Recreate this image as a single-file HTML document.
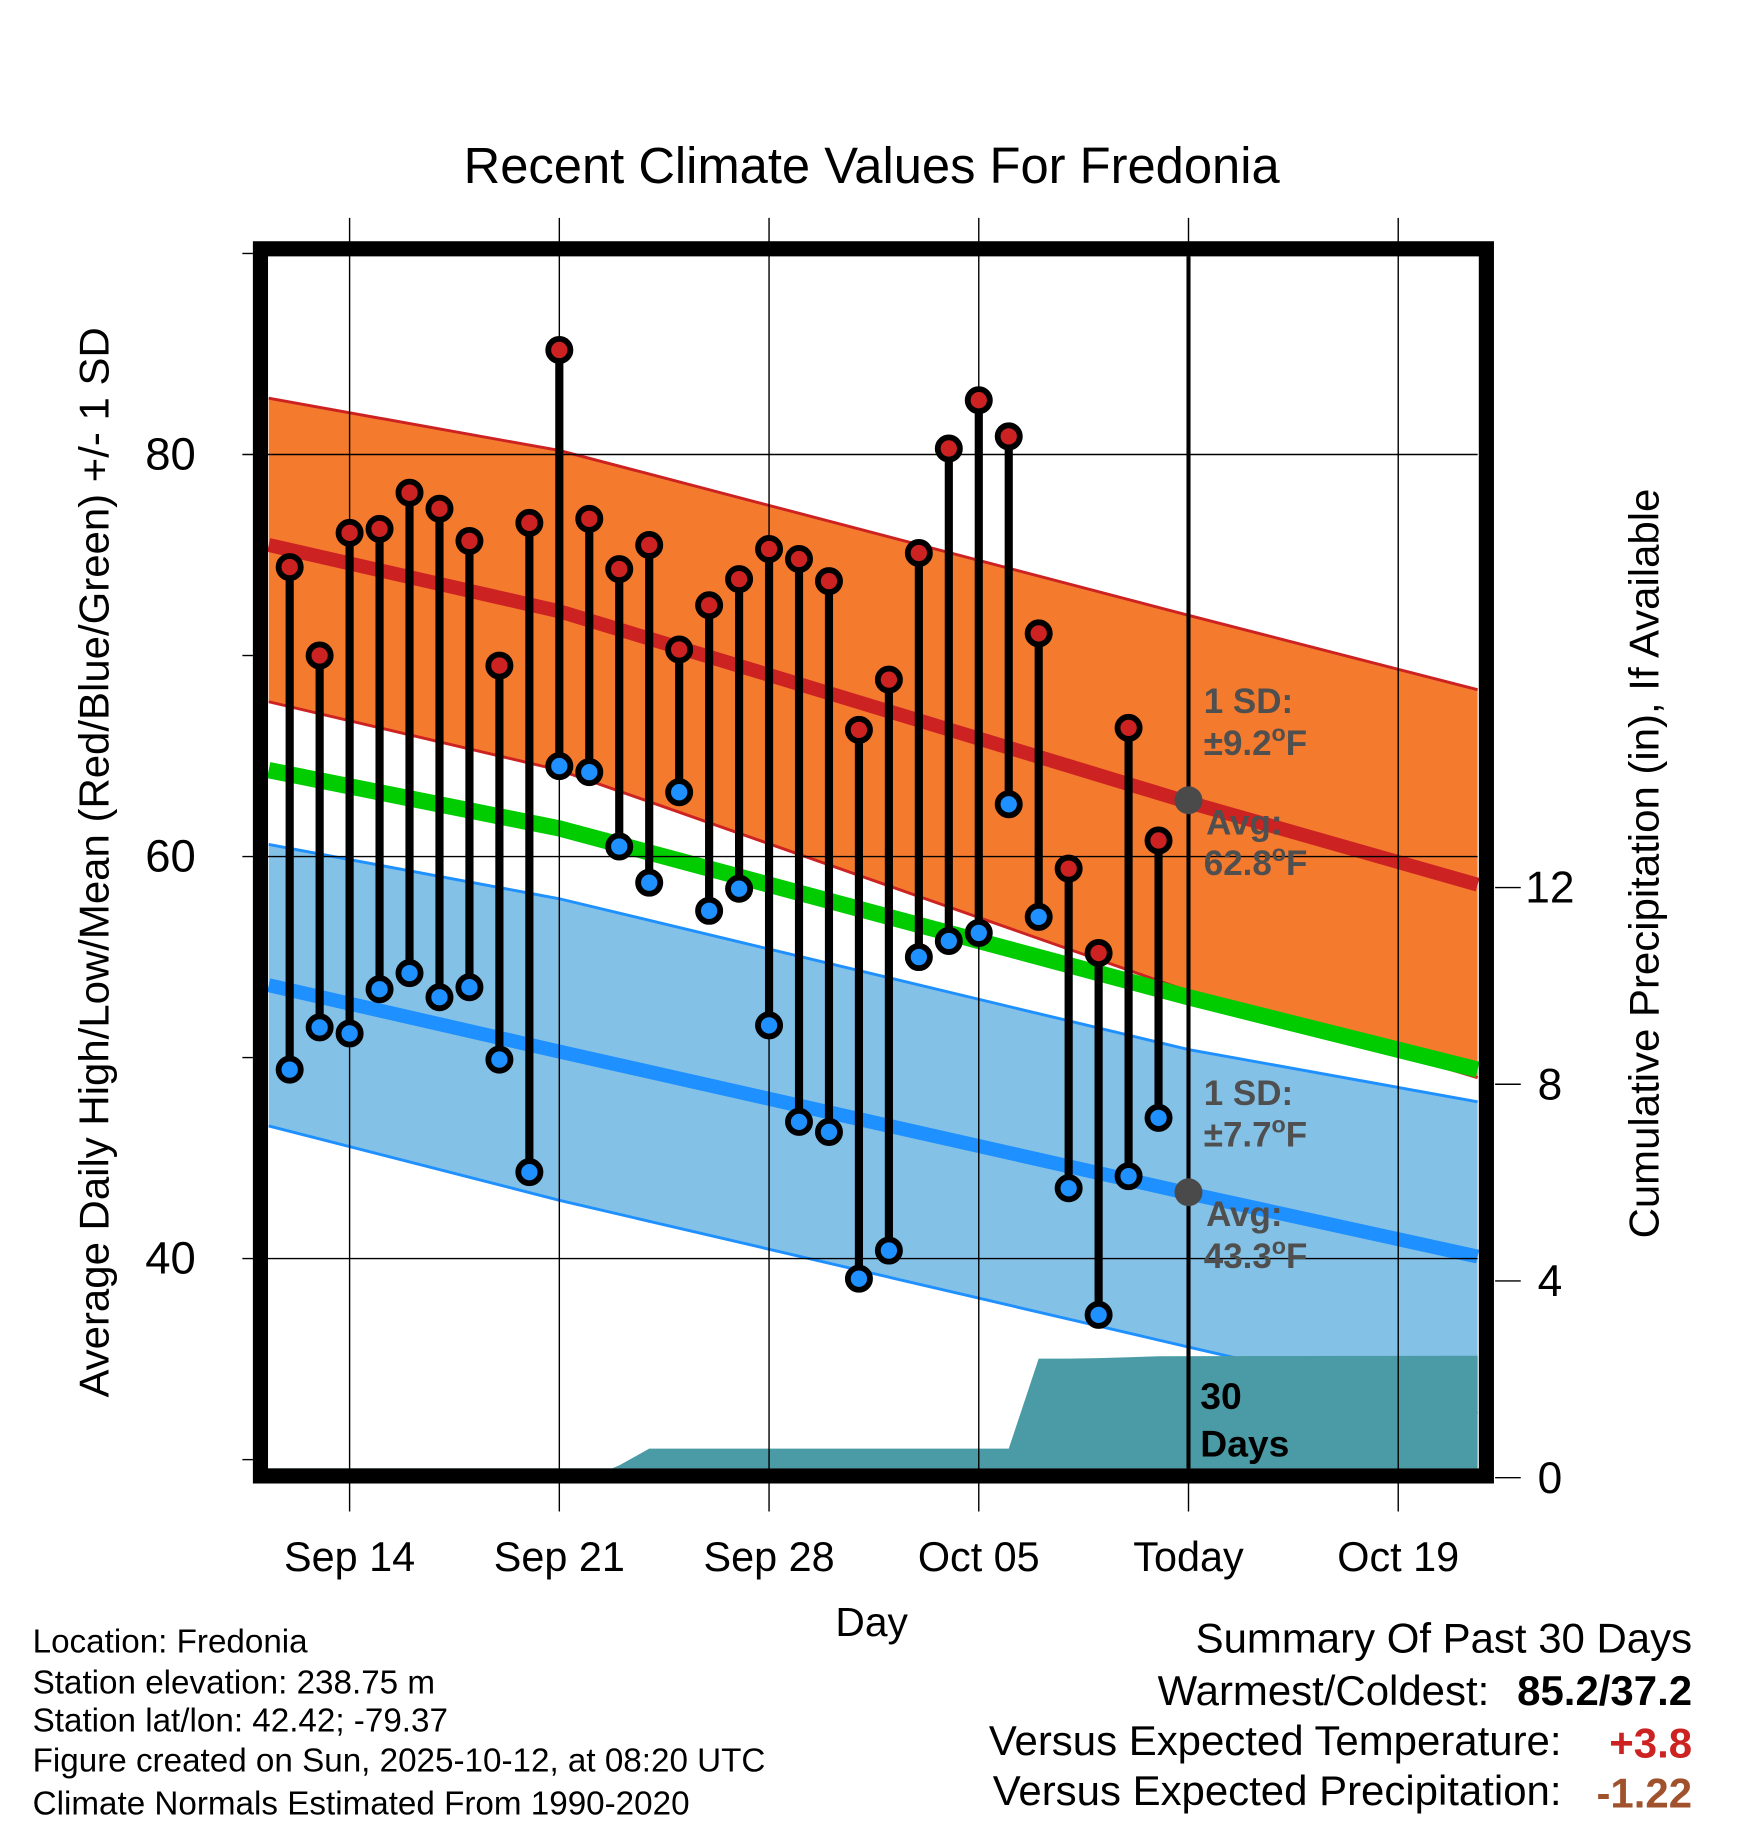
<!DOCTYPE html>
<html><head><meta charset="utf-8"><style>
html,body{margin:0;padding:0;background:#fff;}
svg{display:block;font-family:"Liberation Sans",Arial,sans-serif;}
</style></head><body>
<svg id="chart" width="1748" height="1828" viewBox="0 0 1500 1568.6" preserveAspectRatio="none" xmlns="http://www.w3.org/2000/svg">
<g id="bands"></g>
<g id="grid"></g>
<g id="marks"></g>
<g id="frame"></g>
<g id="labels"></g>
</svg>
<script>
// data (day offsets relative to Sep 14)
const highs = [74.4,70.0,76.1,76.3,78.1,77.3,75.7,69.5,76.6,85.2,76.8,74.3,75.5,70.3,72.5,73.8,75.3,74.8,73.7,66.3,68.8,75.1,80.3,82.7,80.9,71.1,59.4,55.2,66.4,60.8];
const lows = [49.4,51.5,51.2,53.4,54.2,53.0,53.5,49.9,44.3,64.5,64.2,60.5,58.7,63.2,57.3,58.4,51.6,46.8,46.3,39.0,40.4,55.0,55.8,56.2,62.6,57.0,43.5,37.2,44.1,47.0];
const precip = [0,0,0,0,0,0,0,0,0,0,0,0.25,0.59,0.59,0.59,0.59,0.59,0.59,0.59,0.59,0.59,0.59,0.59,0.59,0.59,2.42,2.42,2.43,2.45,2.47];
const firstDay = -2;
const normDays = [-2.7,7,28,37.65];
const highAvg = [75.5,72.2,62.7,58.6];
const highUp = [82.8,80.2,72.0,68.3];
const highLo = [67.7,64.3,53.3,49.0];
const meanAvg = [64.3,61.4,53.0,49.4];
const lowAvg = [53.6,50.3,43.25,40.1];
const lowUp = [60.6,57.9,50.4,47.8];
const lowLo = [46.6,42.9,35.6,32.3];
const xTickDays = [0,7,14,21,28,35];
const xTickLabels = ["Sep 14","Sep 21","Sep 28","Oct 05","Today","Oct 19"];
const yTicks = [40,60,80];
const pTicks = [0,4,8,12];

const NS="http://www.w3.org/2000/svg";
const X = d => 300 + d*25.71;
const Y = v => 735 - (v-60)*17.25;
const P = p => 1268 - p*42.2;
const L=230,R=1268,T=220,B=1260;
function mk(parent,tag,attrs,text){const e=document.createElementNS(NS,tag);for(const k in attrs)e.setAttribute(k,attrs[k]);if(text!==undefined)e.textContent=text;document.getElementById(parent).appendChild(e);return e;}
function pts(arr){return normDays.map((d,i)=>X(d)+","+Y(arr[i])).join(" ");}

let e;
e=mk("bands","polygon",{points:pts(highUp)+" "+normDays.map((d,i)=>[X(d),Y(highLo[i])]).reverse().map(p=>p.join(",")).join(" "),fill:"#f47a2e"});


e=mk("bands","polyline",{points:pts(highUp),fill:"none",stroke:"#cc2222","stroke-width":2.5});


e=mk("bands","polyline",{points:pts(highLo),fill:"none",stroke:"#cc2222","stroke-width":2.5});


e=mk("bands","polygon",{points:pts(lowUp)+" "+normDays.map((d,i)=>[X(d),Y(lowLo[i])]).reverse().map(p=>p.join(",")).join(" "),fill:"#84c1e6"});


e=mk("bands","polyline",{points:pts(lowUp),fill:"none",stroke:"#1e90ff","stroke-width":2.5});


e=mk("bands","polyline",{points:pts(lowLo),fill:"none",stroke:"#1e90ff","stroke-width":2.5});


e=mk("bands","polyline",{points:pts(highAvg),fill:"none",stroke:"#cc2222","stroke-width":12});


e=mk("bands","polyline",{points:pts(lowAvg),fill:"none",stroke:"#1e90ff","stroke-width":12});


e=mk("bands","polyline",{points:pts(meanAvg),fill:"none",stroke:"#00cc00","stroke-width":14});


// precip area
let pp=[[L,B]];
precip.forEach((p,i)=>pp.push([X(firstDay+i),P(p)]));
pp.push([R,P(precip[precip.length-1]+0.01)]);pp.push([R,B]);
e=mk("bands","polygon",{points:pp.map(p=>p.join(",")).join(" "),fill:"#4a9ba5"});



// grid
xTickDays.forEach((d,i)=>{
  e=mk("grid","line",{x1:X(d),x2:X(d),y1:187,y2:1297,stroke:"#000","stroke-width":1.2});
  
  
  e=mk("labels","text",{x:X(d),y:1348,"font-size":35.5,"text-anchor":"middle"},xTickLabels[i]);
  
  
});
yTicks.forEach(v=>{
  e=mk("grid","line",{x1:208,x2:R,y1:Y(v),y2:Y(v),stroke:"#000","stroke-width":1.2});
  
  
  e=mk("labels","text",{x:168,y:Y(v)+13,"font-size":39,"text-anchor":"end"},String(v));
  
  
});
[30,50,70,90].forEach(v=>{
  e=mk("grid","line",{x1:208,x2:217,y1:Y(v),y2:Y(v),stroke:"#000","stroke-width":1.2});
  
  
});
pTicks.forEach(p=>{
  e=mk("grid","line",{x1:1283,x2:1305,y1:P(p),y2:P(p),stroke:"#000","stroke-width":1.2});
  
  
  e=mk("labels","text",{x:1330,y:P(p)+13,"font-size":38,"text-anchor":"middle"},String(p));
  
  
});
e=mk("grid","line",{x1:X(28),x2:X(28),y1:T,y2:B,stroke:"#000","stroke-width":3.5});



// stems and dots
highs.forEach((h,i)=>{
  const x=X(firstDay+i);
  e=mk("marks","line",{x1:x,x2:x,y1:Y(h),y2:Y(lows[i]),stroke:"#000","stroke-width":7});
  
  
});
highs.forEach((h,i)=>{
  const x=X(firstDay+i);
  e=mk("marks","circle",{cx:x,cy:Y(h),r:9.5,fill:"#cc2222",stroke:"#000","stroke-width":5});
  
  
  e=mk("marks","circle",{cx:x,cy:Y(lows[i]),r:9.5,fill:"#1e90ff",stroke:"#000","stroke-width":5});
  
  
});
e=mk("marks","circle",{cx:X(28),cy:Y(62.8),r:12,fill:"#4a4a4a"});


e=mk("marks","circle",{cx:X(28),cy:Y(43.3),r:12,fill:"#4a4a4a"});



e=mk("frame","rect",{x:223.5,y:213.5,width:1052,height:1053,fill:"none",stroke:"#000","stroke-width":13});


</script>
<svg style="position:absolute;left:0;top:0" width="1748" height="1828" viewBox="0 0 1500 1568.6" preserveAspectRatio="none" xmlns="http://www.w3.org/2000/svg" font-family="Liberation Sans, Arial, sans-serif">
<text x="748" y="157" font-size="43.5" text-anchor="middle">Recent Climate Values For Fredonia</text>
<text transform="translate(93,740) rotate(-90)" font-size="36" text-anchor="middle">Average Daily High/Low/Mean (Red/Blue/Green) +/- 1 SD</text>
<text transform="translate(1423,741) rotate(-90)" font-size="36" text-anchor="middle">Cumulative Precipitation (in), If Available</text>
<text x="748" y="1404" font-size="35" text-anchor="middle">Day</text>
<g font-size="30" font-weight="bold" fill="#4f4f4f">
<text x="1033" y="612">1 SD:</text><text x="1033" y="648">±9.2<tspan font-size="20" dy="-12">o</tspan><tspan dy="12">F</tspan></text>
<text x="1035" y="716">Avg:</text><text x="1033" y="751">62.8<tspan font-size="20" dy="-12">o</tspan><tspan dy="12">F</tspan></text>
</g>
<g font-size="30" font-weight="bold" fill="#4f4f4f">
<text x="1033" y="948">1 SD:</text><text x="1033" y="984">±7.7<tspan font-size="20" dy="-12">o</tspan><tspan dy="12">F</tspan></text>
<text x="1035" y="1052">Avg:</text><text x="1033" y="1088">43.3<tspan font-size="20" dy="-12">o</tspan><tspan dy="12">F</tspan></text>
</g>
<g font-size="32" font-weight="bold" fill="#000">
<text x="1030" y="1209">30</text><text x="1030" y="1250">Days</text>
</g>
<g font-size="28.5" fill="#000">
<text x="28" y="1418">Location: Fredonia</text>
<text x="28" y="1453">Station elevation: 238.75 m</text>
<text x="28" y="1486">Station lat/lon: 42.42; -79.37</text>
<text x="28" y="1520">Figure created on Sun, 2025-10-12, at 08:20 UTC</text>
<text x="28" y="1557">Climate Normals Estimated From 1990-2020</text>
</g>
<g font-size="36" fill="#000" text-anchor="end">
<text x="1452" y="1418">Summary Of Past 30 Days</text>
<text x="1278" y="1463">Warmest/Coldest:</text>
<text x="1452" y="1463" font-weight="bold">85.2/37.2</text>
<text x="1340" y="1506">Versus Expected Temperature:</text>
<text x="1452" y="1508" font-weight="bold" fill="#cc2222">+3.8</text>
<text x="1340" y="1549">Versus Expected Precipitation:</text>
<text x="1452" y="1551" font-weight="bold" fill="#a0522d">-1.22</text>
</g>
</svg>
</body></html>
